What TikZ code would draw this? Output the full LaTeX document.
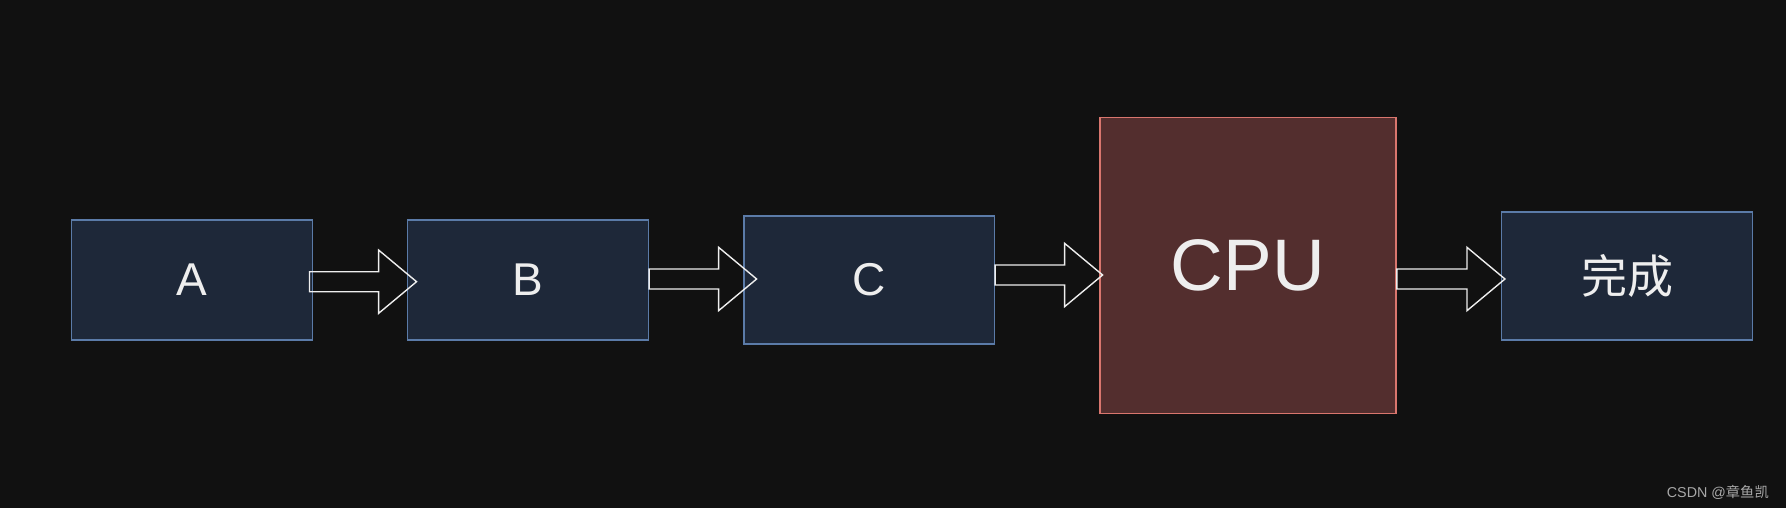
\documentclass[tikz,border=0pt]{standalone}
\usepackage{fontspec}
\setmainfont{Liberation Sans}
\newfontfamily\cjk{Noto Sans CJK SC}
\usetikzlibrary{calc}
\definecolor{bgc}{HTML}{111111}
\definecolor{boxfill}{HTML}{1E2839}
\definecolor{boxline}{HTML}{5B7BA8}
\definecolor{cpufill}{HTML}{532E2E}
\definecolor{cpuline}{HTML}{D9766E}
\definecolor{txt}{HTML}{EEEEEE}
\definecolor{mark}{HTML}{A8A8A8}
\tikzset{
  bluebox/.style={draw=boxline, fill=boxfill, line width=1.5pt, inner sep=0pt,
    text=txt, font=\fontsize{46}{46}\selectfont},
  cpubox/.style={draw=cpuline, fill=cpufill, line width=1.5pt, inner sep=0pt,
    text=txt, font=\fontsize{73}{73}\selectfont},
  blk/.style={draw=txt, line width=1.4pt, line join=miter},
}
\newcommand\blockarrow[2]{%
  \draw[blk] let \p1=(#1), \p2=(#2) in
    (\x1,\y1+10pt) -- (\x2-38pt,\y1+10pt) -- (\x2-38pt,\y1+31.7pt) --
    (\x2,\y1) -- (\x2-38pt,\y1-31.7pt) -- (\x2-38pt,\y1-10pt) --
    (\x1,\y1-10pt) -- cycle;}
\begin{document}
\begin{tikzpicture}[x=1pt,y=-1pt]
\fill[bgc] (0,0) rectangle (1786,508);
\useasboundingbox (0,0) rectangle (1786,508);
\node[bluebox, minimum width=240.6pt, minimum height=120pt] (A) at (192,280) {A};
\node[bluebox, minimum width=240.6pt, minimum height=120pt] (B) at (528,280) {B};
\node[bluebox, minimum width=250.3pt, minimum height=128.3pt] (C) at (869.2,279.9) {C};
\node[cpubox, minimum width=296.3pt, minimum height=296pt] (CPU) at (1247.9,265.7) {CPU};
\node[bluebox, minimum width=250.6pt, minimum height=127.7pt] (D) at (1627,275.9) {\cjk 完成};
\coordinate (s1) at ($(A.east)+(-3.6,1.7)$);
\coordinate (t1) at ($(B.west)+(9.6,1.7)$);
\coordinate (s2) at ($(B.east)+(0,-1)$);
\coordinate (t2) at ($(C.west)+(13.3,-1)$);
\coordinate (s3) at ($(C.east)+(0,-4.9)$);
\coordinate (t3) at ($(CPU.west)+(3.6,-4.9)$);
\coordinate (s4) at ($(CPU.east)+(0,13.3)$);
\coordinate (t4) at ($(D.west)+(4,13.3)$);
\blockarrow{s1}{t1}
\blockarrow{s2}{t2}
\blockarrow{s3}{t3}
\blockarrow{s4}{t4}
\node[anchor=base east, text=mark, font=\fontsize{14.3}{14.3}\selectfont, inner sep=0pt] (wm) at (1769,497.5) {CSDN @{\cjk 章鱼凯}};
\end{tikzpicture}
\end{document}
